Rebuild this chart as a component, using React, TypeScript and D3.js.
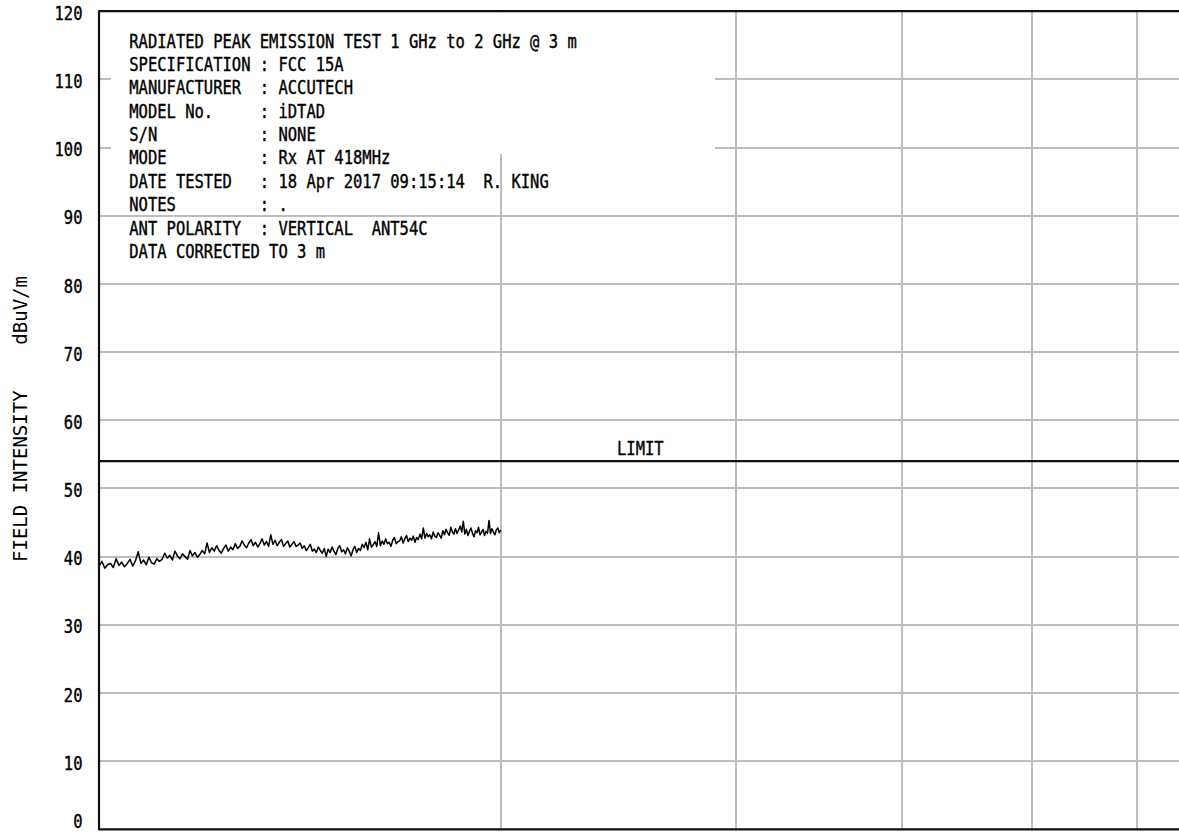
import React from 'react';
import * as d3 from 'd3';

const WIDTH = 1179;
const HEIGHT = 833;

// Swept peak readings, dBuV/m, evenly spaced from SWEEP_START_MHZ to SWEEP_STOP_MHZ
const SWEEP_START_MHZ = 1000;
const SWEEP_STOP_MHZ = 2000;
const peakLevels = [
  38.6, 39.3, 38.3, 38.8, 39.0, 38.4, 39.7, 38.7, 39.2, 38.5,
  39.0, 39.6, 38.6, 39.4, 40.7, 39.0, 39.5, 38.8, 39.9, 39.1,
  38.9, 39.7, 39.3, 39.6, 40.5, 39.8, 40.2, 39.5, 40.8, 40.1,
  39.7, 40.4, 40.0, 39.6, 40.9, 40.1, 40.6, 39.9, 40.3, 40.9,
  40.4, 42.0, 40.6, 41.3, 40.8, 41.6, 40.9, 40.5, 41.2, 41.7,
  40.8, 41.4, 41.0, 41.9, 41.2, 41.5, 42.3, 41.7, 41.3, 42.0,
  42.5, 41.6, 42.1, 41.4, 41.9, 42.6, 41.7, 42.2, 41.5, 43.2,
  41.8, 42.4, 41.6, 42.1, 42.5, 41.5, 41.9, 42.3, 41.4, 41.8,
  42.2, 41.5, 41.7, 42.0, 41.2, 41.6, 40.9, 41.3, 41.8, 40.8,
  41.1, 40.6, 41.4, 40.9, 40.5, 41.2, 40.0, 41.1, 40.6, 41.4,
  40.8, 40.3, 41.2, 41.6, 40.7, 41.0, 40.4, 41.3, 40.8, 40.1,
  41.0, 41.5, 40.6, 41.2, 40.9, 41.8, 41.3, 42.1, 41.0, 42.6,
  41.4, 41.7, 42.2, 41.5, 43.5, 41.6, 42.3, 41.8, 42.6, 41.9,
  42.1, 41.5, 42.4, 42.8, 41.9, 42.2, 42.3, 42.9, 42.0, 42.6,
  43.1, 42.2, 42.7, 42.4, 43.0, 42.1, 42.8, 42.5, 43.3, 42.6,
  44.2, 42.7, 43.4, 42.9, 43.2, 42.6, 43.6, 43.0, 42.8, 43.5,
  43.1, 42.7, 43.8, 43.2, 44.0, 43.5, 43.1, 44.3, 43.6, 43.3,
  44.1, 43.4, 43.9, 44.5, 43.6, 45.2, 43.3, 44.0, 43.1, 43.7,
  44.2, 43.4, 42.9, 43.8, 43.5, 44.3, 43.2, 43.6, 44.0, 43.1,
  43.7, 43.4, 45.3, 43.4, 44.1, 43.6, 43.2, 43.9, 44.2, 43.5,
  43.9,
];

// Axis layout values
const AXIS_MIN_MHZ = 1000;
const AXIS_MAX_MHZ = 10000;
const LEVEL_MIN = 0;
const LEVEL_MAX = 120;
const levelTicks = [0, 10, 20, 30, 40, 50, 60, 70, 80, 90, 100, 110, 120];
const freqGridMHz = [2000, 3000, 4000, 5000, 6000, 7000, 8000, 9000];
const LIMIT_DBUV = 54;
const LIMIT_LABEL_MHZ = 2545;
const LIMIT_LABEL = 'LIMIT';

const headerLines = [
  'RADIATED PEAK EMISSION TEST 1 GHz to 2 GHz @ 3 m',
  'SPECIFICATION : FCC 15A',
  'MANUFACTURER  : ACCUTECH',
  'MODEL No.     : iDTAD',
  'S/N           : NONE',
  'MODE          : Rx AT 418MHz',
  'DATE TESTED   : 18 Apr 2017 09:15:14  R. KING',
  'NOTES         : .',
  'ANT POLARITY  : VERTICAL  ANT54C',
  'DATA CORRECTED TO 3 m',
];

const Y_TITLE = 'FIELD INTENSITY    dBuV/m';

const PLOT_LEFT = 99;
const DECADE_PX = 1334.4;
const PLOT_TOP = 11.2;
const PLOT_BOTTOM = 829.3;

const MONO = "'DejaVu Sans Mono', 'Liberation Mono', monospace";
const FONT_PX = 19;
const CONDENSE = 0.815;
const GRID = '#bdbdbd';

export default function App() {
  const x = d3
    .scaleLog()
    .domain([AXIS_MIN_MHZ, AXIS_MAX_MHZ])
    .range([PLOT_LEFT, PLOT_LEFT + DECADE_PX]);
  const y = d3.scaleLinear().domain([LEVEL_MIN, LEVEL_MAX]).range([PLOT_BOTTOM, PLOT_TOP]);

  const step = (SWEEP_STOP_MHZ - SWEEP_START_MHZ) / (peakLevels.length - 1);
  const trace = peakLevels.map((v, i) => ({ f: SWEEP_START_MHZ + i * step, v }));
  const line = d3
    .line<{ f: number; v: number }>()
    .x((d) => x(d.f))
    .y((d) => y(d.v));

  const innerLevels = levelTicks.filter((t) => t > LEVEL_MIN && t < LEVEL_MAX);

  // Header block with an opaque backing panel
  const panelX = 111;
  const panelRight = 715;
  const panelBottom = 154;
  const textX = 129.3;
  const firstBaseline = 47.6;
  const lineStep = 23.37;

  const labelStyle = {
    fontFamily: MONO,
    fontSize: FONT_PX,
    fill: '#000',
    stroke: '#000',
    strokeWidth: 0.4,
    whiteSpace: 'pre' as const,
  };

  return (
    <svg
      width={WIDTH}
      height={HEIGHT}
      viewBox={`0 0 ${WIDTH} ${HEIGHT}`}
      style={{ position: 'absolute', left: 0, top: 0, background: '#fff' }}
    >
      <rect x={0} y={0} width={WIDTH} height={HEIGHT} fill="#fff" />

      {/* grid */}
      <g stroke={GRID} strokeWidth={2} shapeRendering="crispEdges">
        {innerLevels.map((t) => (
          <line key={`h${t}`} x1={PLOT_LEFT} x2={x(AXIS_MAX_MHZ)} y1={y(t)} y2={y(t)} />
        ))}
        {freqGridMHz.map((f) => (
          <line key={`v${f}`} x1={x(f)} x2={x(f)} y1={PLOT_TOP} y2={PLOT_BOTTOM} />
        ))}
      </g>

      {/* header panel */}
      <rect
        x={panelX}
        y={PLOT_TOP + 1}
        width={panelRight - panelX}
        height={panelBottom - PLOT_TOP - 1}
        fill="#fff"
      />

      {/* frame */}
      <g stroke="#111" strokeWidth={2.2} fill="none">
        <line x1={PLOT_LEFT} x2={x(AXIS_MAX_MHZ)} y1={PLOT_TOP} y2={PLOT_TOP} />
        <line x1={PLOT_LEFT} x2={x(AXIS_MAX_MHZ)} y1={PLOT_BOTTOM} y2={PLOT_BOTTOM} />
        <line x1={PLOT_LEFT} x2={PLOT_LEFT} y1={PLOT_TOP - 1} y2={PLOT_BOTTOM + 1} />
      </g>

      {/* limit */}
      <line
        x1={PLOT_LEFT}
        x2={x(AXIS_MAX_MHZ)}
        y1={y(LIMIT_DBUV)}
        y2={y(LIMIT_DBUV)}
        stroke="#111"
        strokeWidth={2.2}
      />
      <text
        transform={`translate(${x(LIMIT_LABEL_MHZ)},${y(LIMIT_DBUV) - 6}) scale(${CONDENSE},1)`}
        textAnchor="middle"
        style={labelStyle}
      >
        {LIMIT_LABEL}
      </text>

      {/* trace */}
      <path
        d={line(trace) ?? ''}
        fill="none"
        stroke="#000"
        strokeWidth={1.5}
        strokeLinejoin="round"
      />

      {/* level tick labels */}
      {levelTicks.map((t) => (
        <text
          key={`l${t}`}
          transform={`translate(82.5,${Math.min(y(t) + 8.6, HEIGHT - 5)}) scale(${CONDENSE},1)`}
          textAnchor="end"
          style={labelStyle}
        >
          {t}
        </text>
      ))}

      {/* axis title */}
      <text
        transform="translate(26.5,562) rotate(-90)"
        fontFamily={MONO}
        fontSize={19}
        fill="#000"
        style={{ whiteSpace: 'pre' }}
      >
        {Y_TITLE}
      </text>

      {/* header text */}
      {headerLines.map((s, i) => (
        <text
          key={`hd${i}`}
          transform={`translate(${textX},${firstBaseline + i * lineStep}) scale(${CONDENSE},1)`}
          style={labelStyle}
        >
          {s}
        </text>
      ))}
    </svg>
  );
}
